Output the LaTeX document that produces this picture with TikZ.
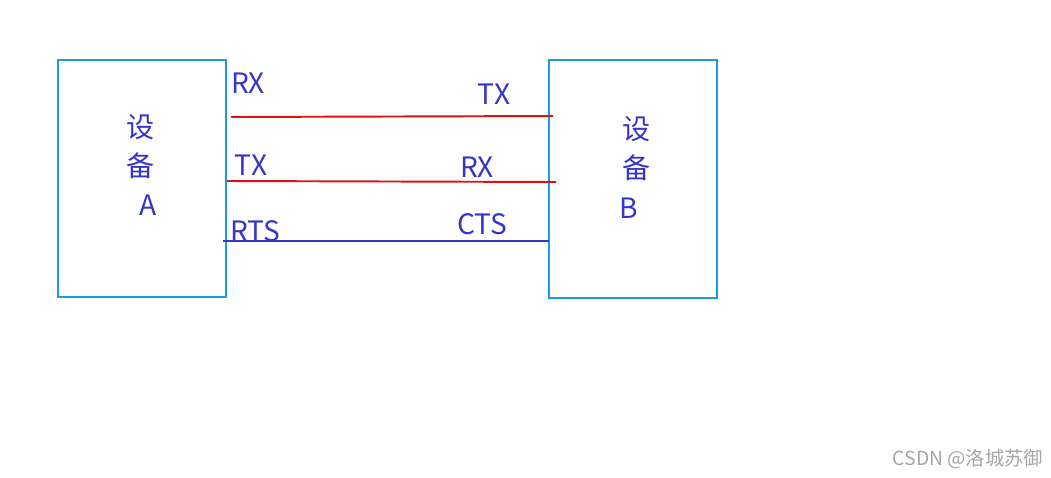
\documentclass[tikz,border=0pt]{standalone}
\usepackage{fontspec}
\setmainfont{Noto Sans CJK SC}
\usepackage{tikz}
\usetikzlibrary{positioning}
\definecolor{boxblue}{HTML}{1A9BE0}
\definecolor{txtblue}{HTML}{3535C8}
\definecolor{linered}{HTML}{E01010}
\tikzset{
	device/.style={draw=boxblue,line width=1.2pt},
	lbl/.style={text=txtblue,font=\fontsize{16}{18}\selectfont,inner sep=0pt},
	wire/.style={line width=1.1pt}
}
\begin{document}
\begin{tikzpicture}[x=0.02cm,y=-0.02cm]
	\useasboundingbox (0,0) rectangle (1051,477);
	% devices
	\draw[device] (58,60) rectangle (226,297);
	\draw[device] (549,60) rectangle (717,298);
	\node[lbl] (a1) at (141,127) {设};
	\node[lbl] (a2) at (141,166) {备};
	\node[lbl] (a3) at (148,205) {A};
	\node[lbl] (b1) at (637,129) {设};
	\node[lbl] (b2) at (637,168) {备};
	\node[lbl] (b3) at (629,208) {B};
	% pins
	\node[lbl] (arx) at (248,83) {RX};
	\node[lbl] (atx) at (251,165) {TX};
	\node[lbl] (arts) at (255,231) {RTS};
	\node[lbl] (btx) at (494,94) {TX};
	\node[lbl] (brx) at (477,167) {RX};
	\node[lbl] (bcts) at (482,224) {CTS};
	\coordinate (l1) at (231,117); \coordinate (r1) at (553,116);
	\coordinate (l2) at (227,181); \coordinate (r2) at (556,182);
	\coordinate (l3) at (223,241); \coordinate (r3) at (549,241);
	\draw[wire,linered] (l1) -- (r1);
	\draw[wire,linered] (l2) -- (r2);
	\draw[wire,txtblue] (l3) -- (r3);
	\node[text=gray!70,font=\fontsize{11}{12}\selectfont] (mark) at (968,459) {CSDN @洛城苏御};
\end{tikzpicture}
\end{document}
